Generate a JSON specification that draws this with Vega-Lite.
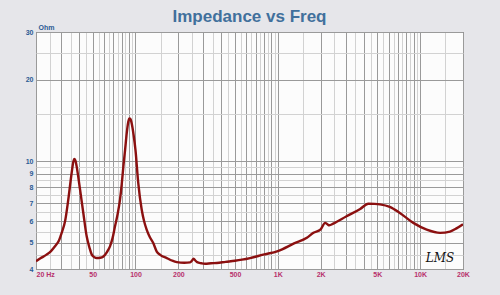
{
  "$schema": "https://vega.github.io/schema/vega-lite/v6.json",
  "width": 427,
  "height": 237,
  "autosize": {"type": "none"},
  "padding": {"left": 36, "top": 32, "right": 37, "bottom": 26},
  "background": "#e6e6ea",
  "config": {"view": {"fill": "#fcfcfc", "stroke": "#555555", "strokeWidth": 1}},
  "title": {"text": "Impedance vs Freq", "font": "Liberation Sans", "fontSize": 17, "fontWeight": "bold", "color": "#41709c", "anchor": "middle", "offset": -3},
  "data": {"values": [
    {"f": 20, "z": 4.27}, {"f": 21.5, "z": 4.38}, {"f": 23.7, "z": 4.52}, {"f": 25.5, "z": 4.66},
    {"f": 27.2, "z": 4.85}, {"f": 29, "z": 5.1}, {"f": 30.3, "z": 5.44}, {"f": 32, "z": 6.0},
    {"f": 33.7, "z": 7.2}, {"f": 35.6, "z": 9.05}, {"f": 36.5, "z": 9.9}, {"f": 37.2, "z": 10.2},
    {"f": 38, "z": 10.0}, {"f": 38.6, "z": 9.57}, {"f": 40.8, "z": 7.85}, {"f": 43, "z": 6.44},
    {"f": 45.4, "z": 5.28}, {"f": 47.5, "z": 4.8}, {"f": 49.3, "z": 4.52}, {"f": 51.5, "z": 4.42},
    {"f": 53.4, "z": 4.39}, {"f": 56.5, "z": 4.4}, {"f": 59.5, "z": 4.45}, {"f": 63, "z": 4.62},
    {"f": 66.2, "z": 4.85}, {"f": 69, "z": 5.2}, {"f": 71.8, "z": 5.75}, {"f": 75, "z": 6.4},
    {"f": 77.8, "z": 7.2}, {"f": 80, "z": 8.2}, {"f": 82.2, "z": 9.57}, {"f": 84.5, "z": 11.0},
    {"f": 86.8, "z": 12.7}, {"f": 89, "z": 14.0}, {"f": 90.6, "z": 14.4}, {"f": 92.3, "z": 14.3},
    {"f": 94, "z": 13.8}, {"f": 97, "z": 12.5}, {"f": 100, "z": 11.0}, {"f": 104.6, "z": 8.3},
    {"f": 110.6, "z": 6.62}, {"f": 115, "z": 6.0}, {"f": 119.8, "z": 5.59}, {"f": 126, "z": 5.25},
    {"f": 133, "z": 5.0}, {"f": 141, "z": 4.64}, {"f": 150, "z": 4.5}, {"f": 166, "z": 4.39},
    {"f": 180, "z": 4.3}, {"f": 195, "z": 4.24}, {"f": 220, "z": 4.22}, {"f": 242, "z": 4.23},
    {"f": 250, "z": 4.3}, {"f": 256, "z": 4.37}, {"f": 263, "z": 4.3}, {"f": 271, "z": 4.24},
    {"f": 290, "z": 4.2}, {"f": 308, "z": 4.18}, {"f": 340, "z": 4.2}, {"f": 372, "z": 4.21},
    {"f": 430, "z": 4.25}, {"f": 500, "z": 4.29}, {"f": 560, "z": 4.33}, {"f": 638, "z": 4.39},
    {"f": 790, "z": 4.52}, {"f": 1000, "z": 4.66}, {"f": 1300, "z": 4.97}, {"f": 1600, "z": 5.22},
    {"f": 1778, "z": 5.44}, {"f": 2000, "z": 5.6}, {"f": 2150, "z": 5.92}, {"f": 2230, "z": 5.85},
    {"f": 2300, "z": 5.8}, {"f": 2452, "z": 5.88}, {"f": 3040, "z": 6.26}, {"f": 3790, "z": 6.66},
    {"f": 4320, "z": 6.97}, {"f": 4800, "z": 6.96}, {"f": 5220, "z": 6.93}, {"f": 6120, "z": 6.78},
    {"f": 7200, "z": 6.44}, {"f": 8950, "z": 5.92}, {"f": 11120, "z": 5.59}, {"f": 13800, "z": 5.44},
    {"f": 16200, "z": 5.5}, {"f": 18000, "z": 5.65}, {"f": 20000, "z": 5.85}
  ]},
  "layer": [
    {
      "mark": {"type": "line", "color": "#8b1010", "strokeWidth": 2.4, "interpolate": "monotone", "clip": true},
      "encoding": {
        "x": {
          "field": "f", "type": "quantitative",
          "scale": {"type": "log", "domain": [20, 20000], "nice": false},
          "axis": {
            "title": null,
            "values": [20,25,30,35,40,45,50,55,60,65,70,75,80,85,90,95,100,150,200,250,300,350,400,450,500,550,600,650,700,750,800,850,900,950,1000,1500,2000,2500,3000,3500,4000,4500,5000,5500,6000,6500,7000,7500,8000,8500,9000,9500,10000,15000,20000],
            "labelExpr": "indexof([20,50,100,200,500,1000,2000,5000,10000,20000], datum.value) >= 0 ? (datum.value >= 1000 ? (datum.value/1000) + 'K' : (datum.value == 20 ? '20  Hz' : datum.value + '')) : ''",
            "labelFlush": false,
            "labelOverlap": false,
            "labelAlign": {"condition": {"test": "datum.value == 20", "value": "left"}, "value": "center"},
            "labelFont": "Liberation Sans", "labelFontSize": 7, "labelFontWeight": "bold", "labelColor": "#b8306c",
            "labelPadding": 1,
            "ticks": false, "domain": false,
            "grid": true,
            "gridColor": {"condition": {"test": "abs(datum.value / pow(10, floor(log(datum.value)/LN10 + 1e-9)) - round(datum.value / pow(10, floor(log(datum.value)/LN10 + 1e-9)))) < 1e-6", "value": "#9a9a9a"}, "value": "#d2d2d2"},
            "gridWidth": 1, "gridOpacity": 1
          }
        },
        "y": {
          "field": "z", "type": "quantitative",
          "scale": {"type": "log", "domain": [4, 30], "nice": false},
          "axis": {
            "title": "Ohm",
            "titleAngle": 0, "titleAlign": "left", "titleBaseline": "bottom", "titleX": 2, "titleY": -2,
            "titleFont": "Liberation Sans", "titleFontSize": 7, "titleFontWeight": "bold", "titleColor": "#2a5a94",
            "values": [4,4.5,5,5.5,6,6.5,7,7.5,8,8.5,9,9.5,10,15,20,25,30],
            "labelExpr": "(datum.value % 1 == 0 && (datum.value <= 10 || datum.value % 10 == 0)) ? datum.value + '' : ''",
            "labelOverlap": false,
            "labelFont": "Liberation Sans", "labelFontSize": 7, "labelFontWeight": "bold", "labelColor": "#2a5a94",
            "labelPadding": 3,
            "ticks": false, "domain": false,
            "grid": true,
            "gridColor": {"condition": {"test": "datum.value % 1 == 0 && (datum.value <= 10 || datum.value % 10 == 0)", "value": "#9a9a9a"}, "value": "#d2d2d2"},
            "gridWidth": 1, "gridOpacity": 1
          }
        }
      }
    },
    {
      "data": {"values": [{"f": 13800, "z": 4.4, "t": "LMS"}]},
      "mark": {"type": "text", "font": "DejaVu Serif", "fontStyle": "italic", "fontSize": 12, "color": "#111111"},
      "encoding": {
        "x": {"field": "f", "type": "quantitative"},
        "y": {"field": "z", "type": "quantitative"},
        "text": {"field": "t"}
      }
    }
  ]
}
